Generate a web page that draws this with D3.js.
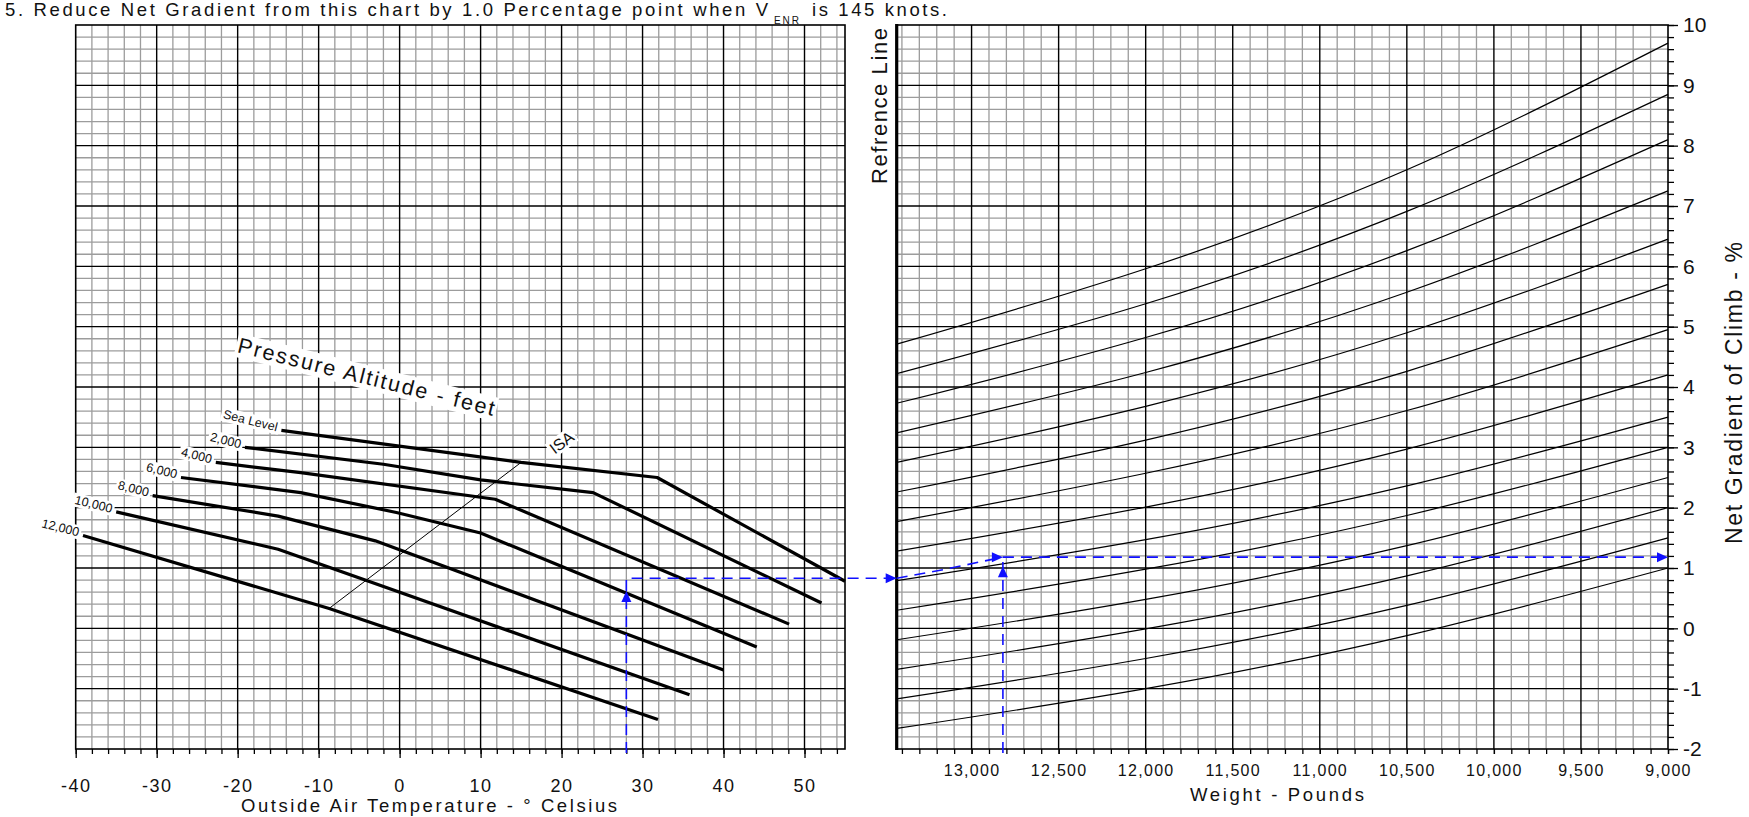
<!DOCTYPE html>
<html><head><meta charset="utf-8">
<script src="https://cdn.jsdelivr.net/npm/d3@7"></script>
<style>
body{margin:0;background:#fff;}
svg{display:block;font-family:"Liberation Sans",Arial,sans-serif;}
</style></head><body>
<svg id="c" width="1749" height="817"></svg>
<script>
// ---------------- DATA ----------------
const tempTicks = [-40,-30,-20,-10,0,10,20,30,40,50];
const weightTicks = [13000,12500,12000,11500,11000,10500,10000,9500,9000];
const weightTickLabels = ["13,000","12,500","12,000","11,500","11,000","10,500","10,000","9,500","9,000"];
const gradientTicks = [10,9,8,7,6,5,4,3,2,1,0,-1,-2];

const altitudeNames = ["Sea Level","2,000","4,000","6,000","8,000","10,000","12,000"];
// [temperature °C, gradient %] points
const seaLevelLine = [[-14.6,3.28],[15,2.75],[31.8,2.5],[55,0.78]];
const alt2000Line  = [[-19.1,3.0],[-2,2.72],[10,2.46],[23.9,2.25],[52.1,0.42]];
const alt4000Line  = [[-22.7,2.75],[-12.2,2.58],[11.8,2.14],[48.1,0.07]];
const alt6000Line  = [[-27.0,2.50],[-12.2,2.25],[-0.4,1.92],[10.0,1.58],[44.1,-0.31]];
const alt8000Line  = [[-30.5,2.20],[-15,1.86],[-3,1.45],[40,-0.69]];
const alt10000Line = [[-35.0,1.93],[-15,1.31],[35.8,-1.10]];
const alt12000Line = [[-39.1,1.54],[-8.7,0.33],[31.9,-1.51]];
const isaLine = [[15,2.75],[-8.7,0.33]];

// Right panel guide lines: gradient at these weights
const guideWeights = [13430,12000,10500,9000];
const guideLines = [
  [-1.66,-1.00,-0.12,1.00],
  [-1.17,-0.50, 0.38,1.50],
  [-0.68,-0.01, 0.87,2.00],
  [-0.19, 0.48, 1.37,2.50],
  [ 0.30, 0.98, 1.87,3.00],
  [ 0.79, 1.47, 2.36,3.50],
  [ 1.28, 2.01, 2.97,4.20],
  [ 1.77, 2.57, 3.61,4.95],
  [ 2.26, 3.12, 4.26,5.70],
  [ 2.75, 3.68, 4.90,6.45],
  [ 3.24, 4.24, 5.57,7.25],
  [ 3.73, 4.82, 6.26,8.10],
  [ 4.22, 5.38, 6.91,8.85],
  [ 4.71, 5.96, 7.60,9.70]
];

// Example (blue dashed) path
const exampleTemp = 28;
const exampleLeftGradient = 0.83;
const exampleUpArrowGradient = 0.62;
const exampleWeight = 12820;
const exampleRightPath = [[13430,0.83],[13150,0.98],[12820,1.18]];
const exampleResult = 1.18;

// ---------------- SCALES ----------------
const svg = d3.select("#c");
const xT = d3.scaleLinear().domain([-40,55]).range([75.7,845]);
const xW = d3.scaleLinear().domain([13430,9000]).range([896.7,1668]);
const y  = d3.scaleLinear().domain([-2,10]).range([749,25]);

const MINOR = "#9c9c9c", MAJOR = "#000";

function vline(g, x, y0, y1, stroke, w){ g.append("line").attr("x1",x).attr("x2",x).attr("y1",y0).attr("y2",y1).attr("stroke",stroke).attr("stroke-width",w); }
function hline(g, y0, x0, x1, stroke, w){ g.append("line").attr("x1",x0).attr("x2",x1).attr("y1",y0).attr("y2",y0).attr("stroke",stroke).attr("stroke-width",w); }

const hMinor = d3.range(-2,10.001,0.2).map(v=>+v.toFixed(1)).filter(v=>Math.abs(v-Math.round(v))>0.01);
const hMajor = d3.range(-1,10,1);

// ---------------- LEFT GRID ----------------
const gl = svg.append("g");
d3.range(-38,55,2).filter(v=>v%10!==0).forEach(v=>vline(gl,xT(v),y(10),y(-2),MINOR,1.3));
hMinor.forEach(v=>hline(gl,y(v),xT(-40),xT(55),MINOR,1.3));
d3.range(-30,55,10).forEach(v=>vline(gl,xT(v),y(10),y(-2),MAJOR,1.4));
hMajor.forEach(v=>hline(gl,y(v),xT(-40),xT(55),MAJOR,1.4));
gl.append("rect").attr("x",xT(-40)).attr("y",y(10)).attr("width",xT(55)-xT(-40)).attr("height",y(-2)-y(10)).attr("fill","none").attr("stroke","#000").attr("stroke-width",1.6);

// ---------------- RIGHT GRID ----------------
const gr = svg.append("g");
d3.range(9100,13430,100).filter(v=>v%500!==0).forEach(v=>vline(gr,xW(v),y(10),y(-2),MINOR,1.3));
hMinor.forEach(v=>hline(gr,y(v),xW(13430),xW(9000),MINOR,1.3));
d3.range(9500,13001,500).forEach(v=>vline(gr,xW(v),y(10),y(-2),MAJOR,1.4));
hMajor.forEach(v=>hline(gr,y(v),xW(13430),xW(9000),MAJOR,1.4));
gr.append("rect").attr("x",xW(13430)).attr("y",y(10)).attr("width",xW(9000)-xW(13430)).attr("height",y(-2)-y(10)).attr("fill","none").attr("stroke","#000").attr("stroke-width",1.6);
vline(gr,xW(13430),y(10)-1,y(-2)+1,"#000",3.2);

// ---------------- AXES ----------------
function styleAxis(a){ a.select(".domain").remove(); a.selectAll(".tick line").attr("stroke","#000").attr("stroke-width",1.3); }
const axLmin = svg.append("g").attr("transform",`translate(0,${y(-2)})`)
  .call(d3.axisBottom(xT).tickValues(d3.range(-40,55,2)).tickSize(5).tickFormat(""));
styleAxis(axLmin);
const axL = svg.append("g").attr("transform",`translate(0,${y(-2)})`)
  .call(d3.axisBottom(xT).tickValues(tempTicks).tickSize(9).tickPadding(21).tickFormat(d=>d));
styleAxis(axL);
axL.selectAll("text").attr("font-size",18).attr("font-family","Liberation Sans, Arial").attr("fill","#111").attr("letter-spacing","1.5px");

const axR = svg.append("g").attr("transform",`translate(0,${y(-2)})`)
  .call(d3.axisBottom(xW).tickValues(d3.range(9000,13431,100)).tickSize(5).tickFormat(""));
styleAxis(axR);
const axRl = svg.append("g").attr("transform",`translate(0,${y(-2)})`)
  .call(d3.axisBottom(xW).tickValues(weightTicks).tickSize(5).tickPadding(11).tickFormat((d,i)=>weightTickLabels[i]));
styleAxis(axRl);
axRl.selectAll("text").attr("font-size",16).attr("font-family","Liberation Sans, Arial").attr("fill","#111").attr("letter-spacing","1.3px");

const axY = svg.append("g").attr("transform",`translate(${xW(9000)},0)`)
  .call(d3.axisRight(y).tickValues(d3.range(-2,10.001,0.2)).tickSize(6).tickFormat(""));
styleAxis(axY);
const axYl = svg.append("g").attr("transform",`translate(${xW(9000)},0)`)
  .call(d3.axisRight(y).tickValues(gradientTicks).tickSize(10).tickPadding(5).tickFormat(d=>d));
styleAxis(axYl);
axYl.selectAll("text").attr("font-size",21).attr("font-family","Liberation Sans, Arial").attr("fill","#111");

// ---------------- LEFT PANEL CURVES ----------------
const lineT = d3.line().x(d=>xT(d[0])).y(d=>y(d[1]));
const altLines = [seaLevelLine,alt2000Line,alt4000Line,alt6000Line,alt8000Line,alt10000Line,alt12000Line];
svg.append("path").attr("d",lineT(isaLine)).attr("fill","none").attr("stroke","#000").attr("stroke-width",1);
altLines.forEach(l=>{
  svg.append("path").attr("d",lineT(l)).attr("fill","none").attr("stroke","#000").attr("stroke-width",3.2).attr("stroke-linejoin","round");
});

function boxedLabel(x, yy, txt, rot, fs, anchor, opts={}){
  const g = svg.append("g").attr("transform",`translate(${x},${yy}) rotate(${rot})`);
  const t = g.append("text").attr("font-size",fs).attr("text-anchor",anchor).attr("fill","#111").text(txt);
  if(opts.len) t.attr("textLength",opts.len).attr("lengthAdjust","spacing");
  if(opts.dy) t.attr("dy",opts.dy);
  const b = t.node().getBBox();
  g.insert("rect","text").attr("x",b.x-2).attr("y",b.y).attr("width",b.width+4).attr("height",b.height).attr("fill","#fff");
  return g;
}
altLines.forEach((l,i)=>{
  boxedLabel(xT(l[0][0])-5, y(l[0][1])+1, altitudeNames[i], 14, 12.5, "end");
});
boxedLabel(xT(20), y(3.08), "ISA", -37, 16, "middle", {dy:"0.35em"});
boxedLabel(xT(-4.1), y(4.17), "Pressure Altitude - feet", 14, 21.5, "middle", {len:264, dy:"0.35em"});

// ---------------- RIGHT PANEL CURVES ----------------
const lineW = d3.line().x(d=>xW(d[0])).y(d=>y(d[1])).curve(d3.curveNatural);
guideLines.forEach(vals=>{
  svg.append("path").attr("d",lineW(vals.map((v,i)=>[guideWeights[i],v]))).attr("fill","none").attr("stroke","#000").attr("stroke-width",1.2);
});

// ---------------- EXAMPLE (BLUE) ----------------
const BLUE = "#1010ff";
const dash = "11,7";
function bluePath(d){ svg.append("path").attr("d",d).attr("fill","none").attr("stroke",BLUE).attr("stroke-width",1.6).attr("stroke-dasharray",dash); }
function arrow(x, yy, dir){
  const L=11, W=5;
  let p;
  if(dir==="right") p=`M${x},${yy} L${x-L},${yy-W} L${x-L},${yy+W} Z`;
  else p=`M${x},${yy} L${x-W},${yy+L} L${x+W},${yy+L} Z`;
  svg.append("path").attr("d",p).attr("fill",BLUE);
}
bluePath(`M${xT(exampleTemp)},${y(-2)+4} V${y(exampleLeftGradient)} H${xW(13430)}`);
arrow(xT(exampleTemp), y(exampleUpArrowGradient), "up");
arrow(xW(13430), y(exampleLeftGradient), "right");
bluePath(d3.line().x(d=>xW(d[0])).y(d=>y(d[1]))(exampleRightPath));
arrow(xW(exampleWeight), y(exampleResult), "right");
bluePath(`M${xW(exampleWeight)},${y(exampleResult)} H${xW(9000)}`);
arrow(xW(9000), y(exampleResult), "right");
bluePath(`M${xW(exampleWeight)},${y(-2)+4} V${y(exampleResult)}`);
arrow(xW(exampleWeight), y(exampleResult)+9, "up");

// ---------------- TEXTS ----------------
svg.append("text").attr("x",5).attr("y",16).attr("font-size",18.5).attr("fill","#111")
  .attr("textLength",763).attr("lengthAdjust","spacing")
  .text("5. Reduce Net Gradient from this chart by 1.0 Percentage point when V");
svg.append("text").attr("x",774).attr("y",24).attr("font-size",10).attr("fill","#111")
  .attr("textLength",25).attr("lengthAdjust","spacing").text("ENR");
svg.append("text").attr("x",812).attr("y",16).attr("font-size",18.5).attr("fill","#111")
  .attr("textLength",135).attr("lengthAdjust","spacing").text("is 145 knots.");

svg.append("text").attr("x",429).attr("y",812).attr("font-size",18.5).attr("text-anchor","middle").attr("fill","#111")
  .attr("textLength",376).attr("lengthAdjust","spacing").text("Outside Air Temperature - ° Celsius");
svg.append("text").attr("x",1277).attr("y",801).attr("font-size",18.5).attr("text-anchor","middle").attr("fill","#111")
  .attr("textLength",174).attr("lengthAdjust","spacing").text("Weight - Pounds");
svg.append("text").attr("transform","translate(887,106) rotate(-90)").attr("font-size",22).attr("text-anchor","middle").attr("fill","#111")
  .attr("textLength",156).attr("lengthAdjust","spacing").text("Refrence Line");
svg.append("text").attr("transform","translate(1742,393) rotate(-90)").attr("font-size",23).attr("text-anchor","middle").attr("fill","#111")
  .attr("textLength",302).attr("lengthAdjust","spacing").text("Net Gradient of Climb - %");
</script>
</body></html>
